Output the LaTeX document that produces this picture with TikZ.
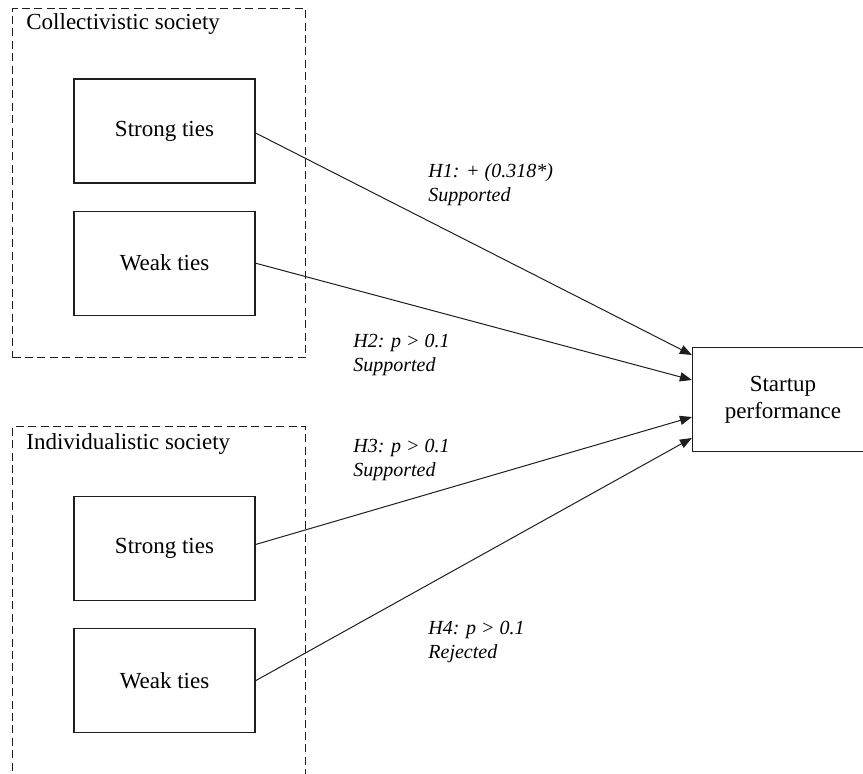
\documentclass[tikz,border=0pt]{standalone}
\usepackage{fontspec}
\setmainfont{Liberation Serif}
\usepackage{tikz}
\usetikzlibrary{arrows.meta,positioning,calc}
\definecolor{hyedge}{RGB}{30,30,30}
\tikzset{
  tiebox/.style={
    draw=hyedge, line width=0.6pt, align=center,
    minimum width=90.5pt, minimum height=52pt, inner sep=2pt
  },
  grp/.style={
    draw=hyedge, line width=0.55pt, dash pattern=on 4pt off 2.2pt,
    inner sep=0pt, anchor=north west
  },
  grptitle/.style={anchor=base west, inner sep=0pt},
  hyp/.style={anchor=base west, inner sep=0pt, align=left, font=\itshape},
  arr/.style={-{Triangle[length=6pt,width=4.6pt]}, draw=hyedge, line width=0.5pt},
  every picture/.append style={font=\fontsize{11.5}{13.5}\selectfont}
}
\begin{document}
\begin{tikzpicture}[x=0.5pt, y=-0.5pt, node distance=13.5pt]
  \useasboundingbox (0,0) rectangle (863,774);
  \clip (0,0) rectangle (863,774);
  % groups
  \node[grp, minimum width=146.5pt, minimum height=174.5pt] (coll) at (12,8) {};
  \node[grp, minimum width=146.5pt, minimum height=190pt] (indiv) at (12,426) {};
  \node[grptitle] (colltitle) at (26,30) {Collectivistic society};
  \node[grptitle] (indivtitle) at (26,450) {Individualistic society};
  % ties
  \node[tiebox] (cstrong) at (164.5,131) {Strong ties};
  \node[tiebox, below=of cstrong] (cweak) {Weak ties};
  \node[tiebox] (istrong) at (164.5,548.5) {Strong ties};
  \node[tiebox, below=of istrong] (iweak) {Weak ties};
  \node[tiebox] (perf) at (783,399.5) {Startup\\performance};
  % hypotheses
  \draw[arr] ([yshift=-1pt]cstrong.east) -- ($(perf.west)+(0,-44.5)$);
  \draw[arr] (cweak.east) -- ($(perf.west)+(0,-19.5)$);
  \draw[arr] ([yshift=2pt]istrong.east) -- ($(perf.west)+(0,17.5)$);
  \draw[arr] (iweak.east) -- ($(perf.west)+(0,38.5)$);
  % base of the last line
  \node[hyp] (h1) at (428,202) {H1: + (0.318*)\\Supported};
  \node[hyp] (h2) at (353,372) {H2: p > 0.1\\Supported};
  \node[hyp] (h3) at (353,477) {H3: p > 0.1\\Supported};
  \node[hyp] (h4) at (428,659) {H4: p > 0.1\\Rejected};
\end{tikzpicture}
\end{document}
